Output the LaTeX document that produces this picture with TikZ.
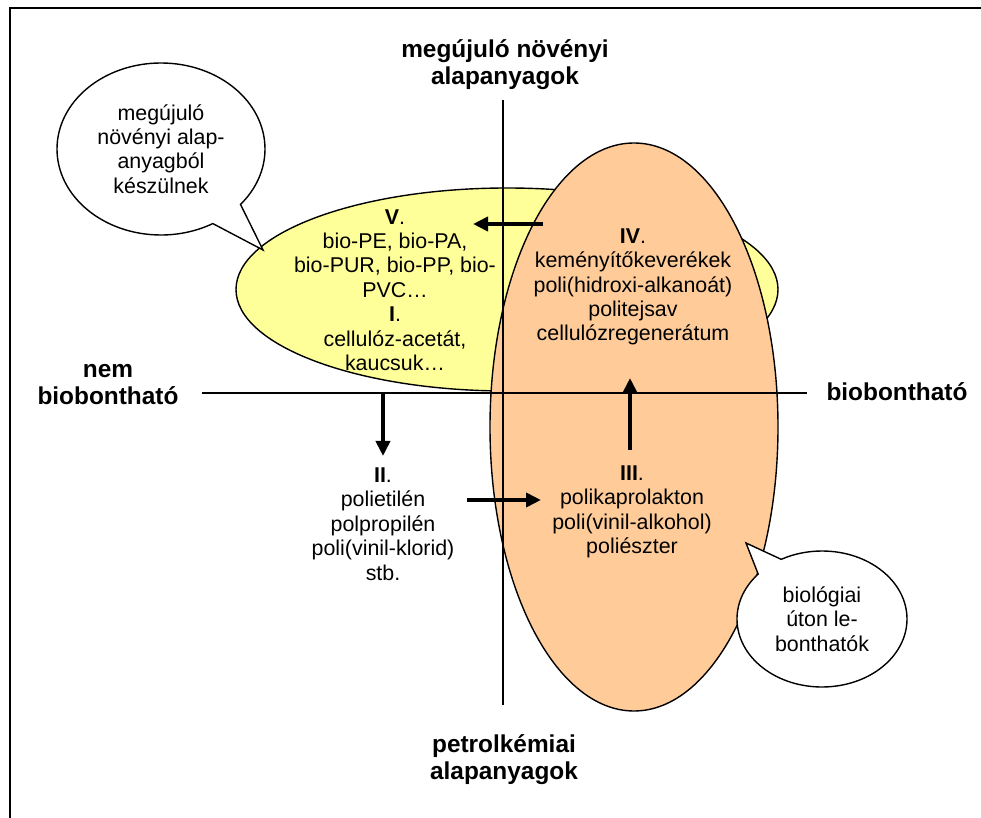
\documentclass[tikz,border=0pt]{standalone}
\usepackage{fontspec}
\setmainfont{Liberation Sans}
\usepackage{tikz}
\usetikzlibrary{positioning}
\usetikzlibrary{shapes}
\usetikzlibrary{shapes.callouts}
\usetikzlibrary{calc}
\usetikzlibrary{arrows.meta}
\usepackage{xcolor}
\definecolor{blobyellow}{HTML}{FFFF99}
\definecolor{bloborange}{HTML}{FFCC99}
\tikzset{blob/.style={
		ellipse,
		draw,
		line width=0.7pt,
		inner sep = 0pt,
		outer sep = 0pt,
	},
}
\tikzset{axis_lbl/.style={
		font=\bfseries\fontsize{12.2}{13.5}\selectfont,
		align=center,
		inner sep = 0pt,
	},
}
\tikzset{grp_txt/.style={
		font=\fontsize{10.7}{12.2}\selectfont,
		align=center,
		inner sep = 0pt,
	},
}
\tikzset{bubble/.style={
		ellipse callout,
		draw,
		fill=white,
		line width=0.7pt,
		callout pointer arc=20,
		inner sep = 0pt,
		font=\fontsize{10.7}{12.2}\selectfont,
		align=center,
	},
}
\tikzset{arr/.style={
		line width=2pt,
		-{Triangle[length=7.5pt, width=7pt]},
	},
}
\tikzset{axis/.style={
		line width=0.7pt,
	},
}

\begin{document}
\begin{tikzpicture}[x=0.5pt, y=-0.5pt]
\useasboundingbox (0,0) rectangle (981,818);

% frame
\draw[line width=1pt] (10,818) -- (10,8) -- (981,8);

% fields
\node[blob, fill=blobyellow, minimum width=271pt, minimum height=101.5pt] (ell_v) at (507,289.5) {};
\node[blob, fill=bloborange, minimum width=144pt, minimum height=284pt] (ell_iv) at (634,427) {};

% bubbles
\node[bubble, minimum width=104pt, minimum height=86pt, callout absolute pointer={(263,250)}] (bub_n) at (161,149) {megújuló\\növényi alap-\\anyagból\\készülnek};
\node[bubble, minimum width=85pt, minimum height=68pt, callout absolute pointer={(746,543)}] (bub_b) at (822,619) {biológiai\\úton le-\\bonthatók};

% axes
\node[axis_lbl] (lbl_n) at (505,65) {megújuló növényi\\alapanyagok};
\node[axis_lbl] (lbl_s) at (504,760) {petrolkémiai\\alapanyagok};
\node[axis_lbl] (lbl_w) at (108,385) {nem\\biobontható};
\node[axis_lbl] (lbl_e) at (897,392) {biobontható};

\coordinate (ax_n) at (503,100);
\coordinate (ax_s) at (503,705);
\coordinate (ax_w) at (202,393);
\coordinate (ax_e) at (807,393);
\draw[axis] (ax_n) -- (ax_s);
\draw[axis] (ax_w) -- (ax_e);

% groups
\node[grp_txt] (grp_v) at (395,290) {{\bfseries V}.\\bio-PE, bio-PA,\\bio-PUR, bio-PP, bio-\\PVC…\\{\bfseries I}.\\cellulóz-acetát,\\kaucsuk…};
\node[grp_txt] (grp_iv) at (633,287) {{\bfseries IV}.\\keményítőkeverékek\\poli(hidroxi-alkanoát)\\politejsav\\cellulózregenerátum};
\node[grp_txt] (grp_iii) at (632,512) {{\bfseries III}.\\polikaprolakton\\poli(vinil-alkohol)\\poliészter};
\node[grp_txt] (grp_ii) at (383,524) {{\bfseries II}.\\polietilén\\polpropilén\\poli(vinil-klorid)\\stb.};

% arrows
\coordinate (a_iv) at (543,224);
\coordinate (a_v) at (473,224);
\coordinate (a_i) at (383,393);
\coordinate (a_ii) at (383,456);
\coordinate (a_iia) at (467,500);
\coordinate (a_iii) at (541,500);
\coordinate (a_iiia) at (630,450);
\coordinate (a_iva) at (630,378);
\draw[arr] (a_iv) -- (a_v);
\draw[arr] (a_i) -- (a_ii);
\draw[arr] (a_iia) -- (a_iii);
\draw[arr] (a_iiia) -- (a_iva);

\end{tikzpicture}
\end{document}
